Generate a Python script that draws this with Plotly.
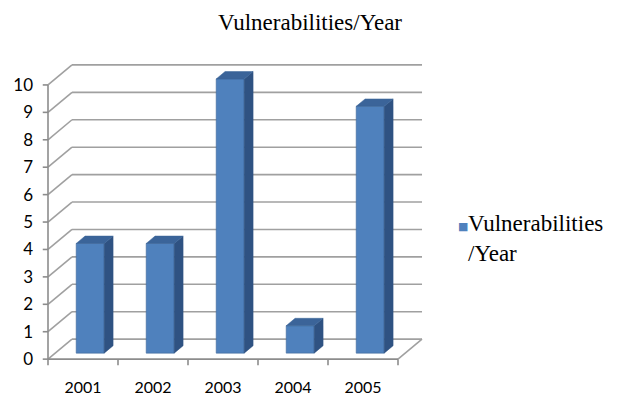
import plotly.graph_objects as go

years = ["2001", "2002", "2003", "2004", "2005"]
values = [4, 4, 10, 1, 9]
y_ticks = list(range(0, 11))
series_name = "Vulnerabilities/Year"

# pseudo-3D depth (in data units)
DX, DY = 0.343, 0.73
F1, F2 = 0.30, 0.67
BW = 0.4
GRID = "#A0A0A0"
AXIS = "#8C8C8C"
FRONT = "#4F81BD"
SIDE = "#2F5282"
TOP = "#3B6499"
SERIF = "Liberation Serif, Times New Roman, serif"

fig = go.Figure()
n = len(years)
x0, x1 = -0.5, n - 0.5

shapes = []
def seg(xa, ya, xb, yb, color):
    shapes.append(dict(type="line", xref="x", yref="y", x0=xa, y0=ya, x1=xb, y1=yb,
                       layer="below", line=dict(color=color, width=1.6)))

# back wall gridlines + left wall diagonals
for k in y_ticks:
    seg(x0, k, x0 + DX, k + DY, GRID)
    seg(x0 + DX, k + DY, x1 + DX, k + DY, GRID)
seg(x1, 0, x1 + DX, DY, GRID)
# front axes and ticks
seg(x0, 0, x0, y_ticks[-1], AXIS)
seg(x0, 0, x1, 0, AXIS)
for k in y_ticks:
    seg(x0 - 0.075, k, x0, k, AXIS)
for i in range(n + 1):
    seg(x0 + i, 0, x0 + i, -0.22, AXIS)

# front faces of bars
xs = [i + F1 * DX for i in range(n)]
fig.add_trace(go.Bar(x=xs, y=values, base=F1 * DY, width=BW, name=series_name,
                     marker=dict(color=FRONT, line=dict(color="#41699A", width=0.6)),
                     showlegend=False))

dd_x, dd_y = (F2 - F1) * DX, (F2 - F1) * DY
for i, v in enumerate(values):
    xl = xs[i] - BW / 2
    xr = xs[i] + BW / 2
    b = F1 * DY
    t = v + F1 * DY
    fig.add_trace(go.Scatter(x=[xr, xr + dd_x, xr + dd_x, xr, xr],
                             y=[b, b + dd_y, t + dd_y, t, b],
                             mode="lines", fill="toself", fillcolor=SIDE,
                             line=dict(color=SIDE, width=0.5), hoverinfo="skip", showlegend=False))
    fig.add_trace(go.Scatter(x=[xl, xr, xr + dd_x, xl + dd_x, xl],
                             y=[t, t, t + dd_y, t + dd_y, t],
                             mode="lines", fill="toself", fillcolor=TOP,
                             line=dict(color=TOP, width=0.5), hoverinfo="skip", showlegend=False))

L, R, T, B = 41, 195, 63, 29
pw = 621 - L - R
ph = 395 - T - B

fig.update_layout(
    width=621, height=395,
    margin=dict(l=L, r=R, t=T, b=B, autoexpand=False),
    paper_bgcolor="white", plot_bgcolor="white",
    shapes=shapes,
    title=dict(text=series_name, x=310 / 621, xref="container", xanchor="center",
               y=1 - 22 / 395, yref="container", yanchor="middle",
               font=dict(family=SERIF, size=23, color="black")),
    xaxis=dict(range=[-0.6, 4.9], tickvals=list(range(n)), ticktext=years,
               showgrid=False, zeroline=False, showline=False, ticks="", automargin=False,
               tickfont=dict(family="Lato", size=16, color="black"), ticklabelstandoff=10),
    yaxis=dict(range=[-0.25, 10.8], tickvals=y_ticks, showgrid=False, zeroline=False,
               showline=False, ticks="", ticklabelstandoff=7, automargin=False,
               tickfont=dict(family="Lato", size=17, color="black")),
    showlegend=False,
    annotations=[
        dict(x=(456 - L) / pw, y=(395 - B - 226) / ph, xref="paper", yref="paper",
             showarrow=False, xanchor="left", yanchor="middle",
             text="■", font=dict(family="DejaVu Sans", size=11, color=FRONT)),
        dict(x=(466 - L) / pw, y=(395 - B - 239) / ph, xref="paper", yref="paper",
             showarrow=False, xanchor="left", yanchor="middle", align="left",
             text="Vulnerabilities<br>/Year",
             font=dict(family=SERIF, size=23, color="black")),
    ],
)

fig.write_html("out.html")
